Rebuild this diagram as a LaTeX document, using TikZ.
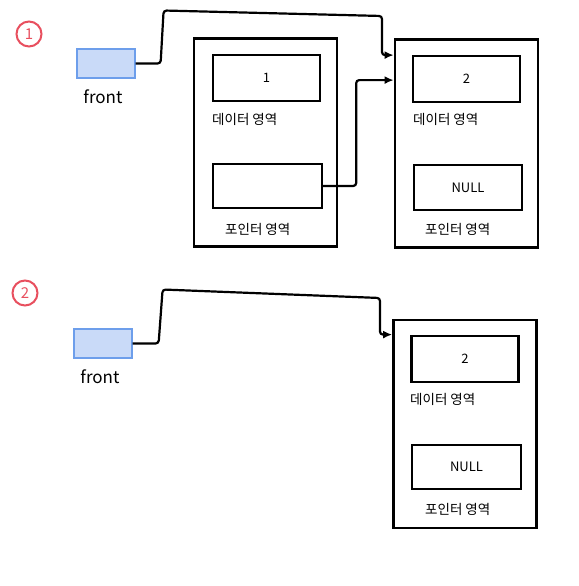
\documentclass[tikz,border=0pt]{standalone}
\usepackage{fontspec}
\setmainfont{Noto Sans CJK KR}
\usepackage{xcolor}
\usepackage{tikz}
\usetikzlibrary{arrows,arrows.meta,shapes,calc}

\definecolor{frontfill}{HTML}{C9DAF8}
\definecolor{frontline}{HTML}{6D9EEB}
\definecolor{stepred}{HTML}{E8505F}

\tikzset{
  stepnum/.style={circle, draw=stepred, text=stepred, line width=2pt, minimum size=25pt, inner sep=0pt, font=\fontsize{15}{15}\selectfont},
  frontbox/.style={draw=frontline, fill=frontfill, line width=1.2pt, minimum width=58pt, minimum height=29pt, inner sep=0pt},
  frontlabel/.style={font=\fontsize{17}{17}\selectfont},
  listbox/.style={draw, line width=2.8pt, minimum width=143pt, minimum height=208pt, inner sep=0pt},
  fieldbox/.style={draw, line width=2.4pt, minimum width=107pt, minimum height=46pt, inner sep=0pt, font=\fontsize{13}{13}\selectfont},
  arealabel/.style={anchor=west, inner sep=0pt, font=\fontsize{13.5}{13.5}\selectfont},
  link/.style={line width=2.2pt, rounded corners=3pt, -{Latex[length=9pt,width=8pt]}}
}

\begin{document}
\begin{tikzpicture}[x=1pt,y=-1pt]
    \useasboundingbox (0,0) rectangle (578,586);
    % 1
    \node[stepnum] (num1) at (29,34) {1};
    \node[frontbox] (front1) at (106,63.5) {};
    \node[frontlabel] (front1lbl) at (103,97) {front};

    \node[listbox] (node1) at (265.5,142.5) {};
    \node[fieldbox] (data1) at (266.5,78) {1};
    \node[arealabel] (data1lbl) at (212,119) {데이터 영역};
    \node[fieldbox, minimum width=109pt, minimum height=44pt] (ptr1) at (267.5,186) {};
    \node[arealabel] (ptr1lbl) at (225,229) {포인터 영역};

    \node[listbox] (node2) at (466.5,143.5) {};
    \node[fieldbox] (data2) at (466.5,79) {2};
    \node[arealabel] (data2lbl) at (413,119) {데이터 영역};
    \node[fieldbox, minimum width=108pt, minimum height=45pt] (ptr2) at (468,187.5) {NULL};
    \node[arealabel] (ptr2lbl) at (425,229) {포인터 영역};

    \coordinate (in1) at ($(node2.north west)+(0,17)$);
    \coordinate (in2) at ($(node2.north west)+(0,42)$);
    \draw[link] (front1.east) -- ++(25,0) -- ++(3,-53) -- (382,16) |- (in1);
    \draw[link] (ptr1.east) -- ++(33,0) |- (in2);

    % 2
    \node[stepnum] (num2) at (25,293) {2};
    \node[frontbox] (front2) at (103,343.5) {};
    \node[frontlabel] (front2lbl) at (100,377) {front};

    \node[listbox] (node3) at (465,424) {};
    \node[fieldbox] (data3) at (465,359) {2};
    \node[arealabel] (data3lbl) at (410,399) {데이터 영역};
    \node[fieldbox, minimum width=109pt, minimum height=44pt] (ptr3) at (466.5,467) {NULL};
    \node[arealabel] (ptr3lbl) at (425,509) {포인터 영역};

    \coordinate (in3) at ($(node3.north west)+(0,16)$);
    \draw[link] (front2.east) -- ++(26,0) -- ++(4,-54) -- (380,298) |- (in3);
\end{tikzpicture}
\end{document}
